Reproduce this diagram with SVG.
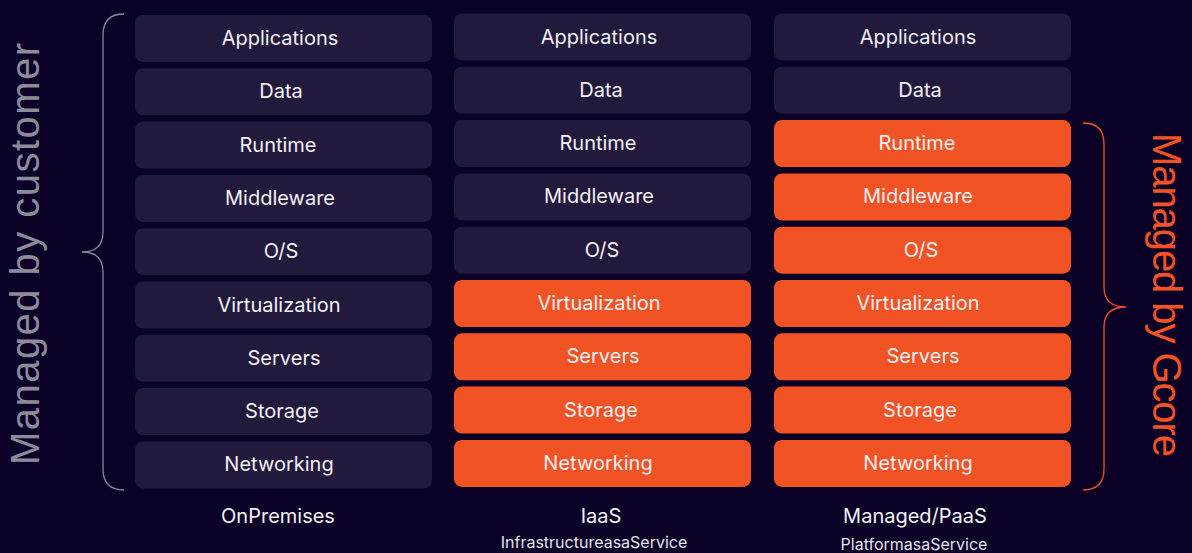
<svg xmlns="http://www.w3.org/2000/svg" width="1192" height="553" viewBox="0 0 1192 553">
<style>
.bg{fill:#0b0127}
.d{fill:#221a3d}
.o{fill:#f25325}
.t{font-family:Inter,"Liberation Sans",sans-serif;font-size:20px;fill:#f3f1f6;text-anchor:middle}
.s{font-family:Inter,"Liberation Sans",sans-serif;font-size:16px;fill:#e6e4ec;text-anchor:middle}
.side{font-family:"Liberation Sans",Arial,sans-serif;font-size:40px;text-anchor:middle}
</style>
<rect class="bg" x="0" y="0" width="1192" height="553"/>
<g id="col-onprem">
<rect class="d" x="135" y="15" width="297" height="47" rx="8"/><text class="t" x="280" y="45">Applications</text>
<rect class="d" x="135" y="68.3" width="297" height="47" rx="8"/><text class="t" x="281" y="98.3">Data</text>
<rect class="d" x="135" y="121.6" width="297" height="47" rx="8"/><text class="t" x="278" y="151.6">Runtime</text>
<rect class="d" x="135" y="174.9" width="297" height="47" rx="8"/><text class="t" x="280" y="204.9">Middleware</text>
<rect class="d" x="135" y="228.2" width="297" height="47" rx="8"/><text class="t" x="281" y="258.2">O/S</text>
<rect class="d" x="135" y="281.5" width="297" height="47" rx="8"/><text class="t" x="279" y="311.5">Virtualization</text>
<rect class="d" x="135" y="334.8" width="297" height="47" rx="8"/><text class="t" x="284" y="364.8">Servers</text>
<rect class="d" x="135" y="388.1" width="297" height="47" rx="8"/><text class="t" x="282" y="418.1">Storage</text>
<rect class="d" x="135" y="441.4" width="297" height="47" rx="8"/><text class="t" x="279" y="471.4">Networking</text>
<text class="t" x="278" y="523">OnPremises</text>
</g>
<g id="col-iaas">
<rect class="d" x="454" y="13.5" width="297" height="47" rx="8"/><text class="t" x="599" y="43.5">Applications</text>
<rect class="d" x="454" y="66.8" width="297" height="47" rx="8"/><text class="t" x="601" y="96.8">Data</text>
<rect class="d" x="454" y="120.1" width="297" height="47" rx="8"/><text class="t" x="598" y="150.1">Runtime</text>
<rect class="d" x="454" y="173.4" width="297" height="47" rx="8"/><text class="t" x="599" y="203.4">Middleware</text>
<rect class="d" x="454" y="226.7" width="297" height="47" rx="8"/><text class="t" x="602" y="256.7">O/S</text>
<rect class="o" x="454" y="280" width="297" height="47" rx="8"/><text class="t" x="599" y="310">Virtualization</text>
<rect class="o" x="454" y="333.3" width="297" height="47" rx="8"/><text class="t" x="603" y="363.3">Servers</text>
<rect class="o" x="454" y="386.6" width="297" height="47" rx="8"/><text class="t" x="601" y="416.6">Storage</text>
<rect class="o" x="454" y="439.9" width="297" height="47" rx="8"/><text class="t" x="598" y="469.9">Networking</text>
<text class="t" x="601" y="523">IaaS</text>
<text class="s" x="594" y="548">InfrastructureasaService</text>
</g>
<g id="col-paas">
<rect class="d" x="774" y="13.5" width="297" height="47" rx="8"/><text class="t" x="918" y="43.5">Applications</text>
<rect class="d" x="774" y="66.8" width="297" height="47" rx="8"/><text class="t" x="920" y="96.8">Data</text>
<rect class="o" x="774" y="120.1" width="297" height="47" rx="8"/><text class="t" x="917" y="150.1">Runtime</text>
<rect class="o" x="774" y="173.4" width="297" height="47" rx="8"/><text class="t" x="918" y="203.4">Middleware</text>
<rect class="o" x="774" y="226.7" width="297" height="47" rx="8"/><text class="t" x="921" y="256.7">O/S</text>
<rect class="o" x="774" y="280" width="297" height="47" rx="8"/><text class="t" x="918" y="310">Virtualization</text>
<rect class="o" x="774" y="333.3" width="297" height="47" rx="8"/><text class="t" x="923" y="363.3">Servers</text>
<rect class="o" x="774" y="386.6" width="297" height="47" rx="8"/><text class="t" x="920" y="416.6">Storage</text>
<rect class="o" x="774" y="439.9" width="297" height="47" rx="8"/><text class="t" x="918" y="469.9">Networking</text>
<text class="t" x="915" y="523">Managed/PaaS</text>
<text class="s" x="914" y="550">PlatformasaService</text>
</g>
<g id="connectors" fill="none" stroke-width="1.3">
<path stroke="#8a879a" d="M124,14 Q103,14 103,35 L103,232 Q103,252 82,252 Q103,252 103,272 L103,469 Q103,490 124,490"/>
<path stroke="#f25325" d="M1083,123 Q1104,123 1104,144 L1104,287 Q1104,307 1126,307 Q1104,307 1104,327 L1104,469 Q1104,490 1083,490"/>
</g>
<g id="label-customer">
<text class="side" fill="#8d8a9b" transform="translate(39,254) rotate(-90)" textLength="422" lengthAdjust="spacing">Managed by customer</text>
</g>
<g id="label-gcore">
<text class="side" fill="#f25325" transform="translate(1153,295) rotate(90)" textLength="324" lengthAdjust="spacing">Managed by Gcore</text>
</g>
</svg>
